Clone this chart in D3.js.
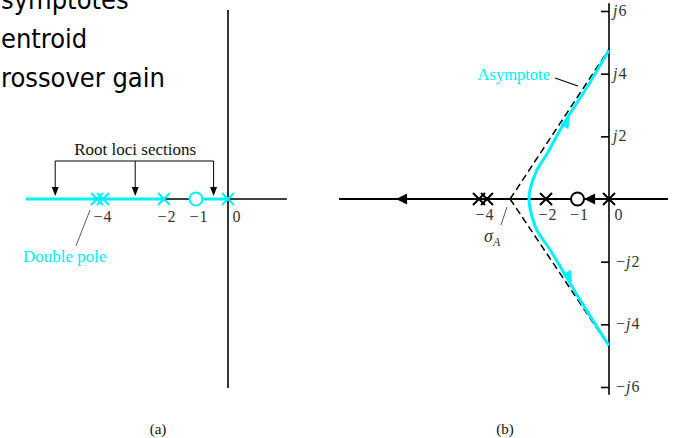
<!DOCTYPE html>
<html>
<head>
<meta charset="utf-8">
<script src="https://cdn.jsdelivr.net/npm/d3@7"></script>
<style>
  body { margin: 0; background: #fff; }
  svg { display: block; }
  .serif { font-family: "Liberation Serif", "Times New Roman", serif; }
  .num { font-size: 16px; letter-spacing: 1px; fill: #333; }
  .slide { font-family: "DejaVu Sans Condensed", "DejaVu Sans", sans-serif; font-stretch: condensed; }
</style>
</head>
<body>
<div id="chart"></div>
<script>
// Slide bullet text, as far as it is visible at the left edge
const slideLines = ['symptotes', 'entroid', 'rossover gain'];

// Open-loop poles and zeros
const poles = [0, -2, -4, -4];
const zeros = [-1];

// Panel (a)
const realLabelsA = [-4, -2, -1, 0];
const locusStretchesA = [[-6.31, -2], [-1, 0]];
const sectionArrows = [-5.4, -2.9, -0.45];

// Panel (b)
const realLabelsB = [-4, -2, -1, 0];
const imagTicks = [-6, -4, -2, 2, 4, 6];
const centroid = -3.14;
const asymptoteEnds = [4.78, -4.7];
const locusUpper = [[-2.54, 0], [-2.5, 0.32], [-2.29, 0.92], [-2.03, 1.34], [-1.9, 1.56],
    [-1.43, 2.42], [-0.76, 3.47], [0, 4.75]];
const locusLower = [[-2.54, 0], [-2.5, -0.33], [-2.29, -0.99], [-1.87, -1.62],
    [-1.3, -2.58], [-0.92, -3.22], [0, -4.68]];
const branchArrows = [
    {tip: [-1.24, 2.61], from: [-1.43, 2.3]},
    {tip: [-1.17, -2.64], from: [-1.36, -2.33]}
];
const realArrows = [-6.76, -0.79]; // tips, both pointing left

const CYAN = '#00f0ff';
const GREY = '#333';

const svg = d3.select('#chart')
    .append('svg')
    .attr('width', 677)
    .attr('height', 438);

// triangle head: tip point, direction angle, length, half width
function headPath(tx, ty, ang, len, hw) {
    const bx = tx - len * Math.cos(ang), by = ty - len * Math.sin(ang);
    const nx = -Math.sin(ang) * hw, ny = Math.cos(ang) * hw;
    return `M${tx},${ty}L${bx + nx},${by + ny}L${bx - nx},${by - ny}Z`;
}
const crossPath = 'M-6,-6L6,6M-6,6L6,-6';

// --- slide text ---
svg.append('g').attr('class', 'slide')
    .style('font-size', '27px').style('fill', '#000')
    .selectAll('text').data(slideLines).enter()
    .append('text')
    .attr('x', 1)
    .attr('y', (d, i) => [9, 48, 87][i])
    .text(d => d);

// ================= panel (a) =================
const xA = d3.scaleLinear().domain([-4, 0]).range([100, 228]);
const yA = d3.scaleLinear().domain([-6, 6]).range([388, 10]);
const gA = svg.append('g');

// axes
gA.append('line')
    .attr('x1', xA(0)).attr('x2', xA(0))
    .attr('y1', yA(6)).attr('y2', yA(-6))
    .attr('stroke', '#000').attr('stroke-width', 1.6);
gA.append('line')
    .attr('x1', xA(-6.31)).attr('x2', xA(1.84))
    .attr('y1', yA(0)).attr('y2', yA(0))
    .attr('stroke', '#000').attr('stroke-width', 1.6);

// locus on the real axis
gA.selectAll('.seg').data(locusStretchesA).enter()
    .append('line')
    .attr('x1', d => xA(d[0])).attr('x2', d => xA(d[1]))
    .attr('y1', yA(0)).attr('y2', yA(0))
    .attr('stroke', CYAN).attr('stroke-width', 3);

// poles / zeros
function poleOffsets(list, gap) {
    return list.map(function (p, i) {
        const same = list.filter(q => q === p);
        const k = list.slice(0, i).filter(q => q === p).length;
        return {v: p, dx: (k - (same.length - 1) / 2) * gap};
    });
}
gA.selectAll('.pole').data(poleOffsets(poles, 6)).enter()
    .append('path')
    .attr('d', crossPath)
    .attr('transform', d => `translate(${xA(d.v) + d.dx},${yA(0)})`)
    .attr('fill', 'none').attr('stroke', CYAN).attr('stroke-width', 2);
gA.selectAll('.zero').data(zeros).enter()
    .append('circle')
    .attr('cx', d => xA(d)).attr('cy', yA(0)).attr('r', 6.5)
    .attr('fill', '#fff').attr('stroke', CYAN).attr('stroke-width', 2);

// tick labels
gA.selectAll('.lbl').data(realLabelsA).enter()
    .append('text')
    .attr('class', 'serif num')
    .attr('x', d => d === 0 ? xA(d) + 9 : xA(d) + 3)
    .attr('y', yA(0) + 23)
    .attr('text-anchor', 'middle')
    .text(d => d === 0 ? '0' : '\u2212' + Math.abs(d));

// "Root loci sections" bracket
const bracketY = 161;
gA.append('text')
    .attr('class', 'serif')
    .attr('x', xA(-2.9)).attr('y', 155)
    .attr('text-anchor', 'middle')
    .style('font-size', '17px').style('fill', '#111')
    .text('Root loci sections');
gA.append('line')
    .attr('x1', xA(sectionArrows[0])).attr('x2', xA(sectionArrows[2]))
    .attr('y1', bracketY).attr('y2', bracketY)
    .attr('stroke', '#000').attr('stroke-width', 1);
sectionArrows.forEach(function (s) {
    gA.append('line')
        .attr('x1', xA(s)).attr('x2', xA(s))
        .attr('y1', bracketY).attr('y2', yA(0) - 10)
        .attr('stroke', '#000').attr('stroke-width', 1);
    gA.append('path')
        .attr('d', headPath(xA(s), yA(0) - 3, Math.PI / 2, 9, 3.5))
        .attr('fill', '#000');
});

// double pole note
gA.append('line')
    .attr('x1', 90).attr('y1', 210).attr('x2', 76).attr('y2', 246)
    .attr('stroke', '#333').attr('stroke-width', 0.8);
gA.append('text')
    .attr('class', 'serif')
    .attr('x', 23).attr('y', 262)
    .style('font-size', '17px').style('fill', CYAN)
    .text('Double pole');

gA.append('text')
    .attr('class', 'serif')
    .attr('x', 158).attr('y', 434)
    .attr('text-anchor', 'middle')
    .style('font-size', '15px').style('fill', '#111')
    .text('(a)');

// ================= panel (b) =================
const xB = d3.scaleLinear().domain([-2, 0]).range([546, 609]);
const yB = d3.scaleLinear().domain([-6, 6]).range([387, 11]);
const gB = svg.append('g');

// imaginary axis with ticks on the left
gB.append('g')
    .attr('transform', `translate(${xB(0)},0)`)
    .call(d3.axisLeft(yB).tickValues(imagTicks).tickSize(8).tickFormat(''))
    .call(g => g.select('.domain').remove())
    .selectAll('line').attr('stroke', '#000').attr('stroke-width', 1.6);
gB.append('line')
    .attr('x1', xB(0)).attr('x2', xB(0))
    .attr('y1', yB(6.25)).attr('y2', yB(-6.25))
    .attr('stroke', '#000').attr('stroke-width', 1.6);

gB.selectAll('.jl').data(imagTicks).enter()
    .append('text')
    .attr('class', 'serif num')
    .attr('x', d => xB(0) + (d < 0 ? 7 : 4))
    .attr('y', d => yB(d) + 5)
    .each(function (d) {
        const t = d3.select(this);
        if (d < 0) t.append('tspan').text('\u2212');
        t.append('tspan').style('font-style', 'italic').text('j');
        t.append('tspan').text(Math.abs(d));
    });

// real axis (heavy)
gB.append('line')
    .attr('x1', xB(-8.57)).attr('x2', xB(1.87))
    .attr('y1', yB(0)).attr('y2', yB(0))
    .attr('stroke', '#000').attr('stroke-width', 2.2);
realArrows.forEach(function (r) {
    gB.append('path')
        .attr('d', headPath(xB(r), yB(0), Math.PI, 11, 5.5))
        .attr('fill', '#000');
});

// asymptotes
asymptoteEnds.forEach(function (e) {
    gB.append('line')
        .attr('x1', xB(centroid)).attr('y1', yB(0))
        .attr('x2', xB(0)).attr('y2', yB(e))
        .attr('stroke', '#000').attr('stroke-width', 1.5)
        .attr('stroke-dasharray', '7,4');
});

// complex branches
const locusLine = d3.line()
    .x(d => xB(d[0])).y(d => yB(d[1]))
    .curve(d3.curveCatmullRom);
const branchPts = locusLower.slice().reverse().concat(locusUpper.slice(1));
gB.append('path')
    .attr('d', locusLine(branchPts))
    .attr('fill', 'none').attr('stroke', CYAN).attr('stroke-width', 3);
branchArrows.forEach(function (a) {
    const tx = xB(a.tip[0]), ty = yB(a.tip[1]);
    const ang = Math.atan2(ty - yB(a.from[1]), tx - xB(a.from[0]));
    gB.append('path')
        .attr('d', headPath(tx, ty, ang, 11, 5))
        .attr('fill', CYAN);
});

// poles / zeros
gB.selectAll('.pole').data(poleOffsets(poles, 8)).enter()
    .append('path')
    .attr('d', crossPath)
    .attr('transform', d => `translate(${xB(d.v) + d.dx},${yB(0)})`)
    .attr('fill', 'none').attr('stroke', '#000').attr('stroke-width', 2);
gB.selectAll('.zero').data(zeros).enter()
    .append('circle')
    .attr('cx', d => xB(d)).attr('cy', yB(0)).attr('r', 6.5)
    .attr('fill', '#fff').attr('stroke', '#000').attr('stroke-width', 2);

gB.selectAll('.lbl').data(realLabelsB).enter()
    .append('text')
    .attr('class', 'serif num')
    .attr('x', d => d === 0 ? xB(d) + 10 : xB(d) + 2)
    .attr('y', yB(0) + 21)
    .attr('text-anchor', 'middle')
    .text(d => d === 0 ? '0' : '\u2212' + Math.abs(d));

// centroid label
gB.append('line')
    .attr('x1', 507).attr('y1', 207).attr('x2', 501).attr('y2', 225)
    .attr('stroke', '#333').attr('stroke-width', 0.8);
const sig = gB.append('text')
    .attr('class', 'serif')
    .attr('x', 484).attr('y', 242)
    .style('font-size', '18px').style('fill', GREY);
sig.append('tspan').style('font-style', 'italic').text('\u03c3');
sig.append('tspan').attr('dy', 4).style('font-size', '12px')
    .style('font-style', 'italic').text('A');

// asymptote note
gB.append('line')
    .attr('x1', 555).attr('y1', 78).attr('x2', 578).attr('y2', 86)
    .attr('stroke', '#000').attr('stroke-width', 1.2);
gB.append('text')
    .attr('class', 'serif')
    .attr('x', 550).attr('y', 80)
    .attr('text-anchor', 'end')
    .style('font-size', '16.5px').style('fill', CYAN)
    .text('Asymptote');

gB.append('text')
    .attr('class', 'serif')
    .attr('x', 505).attr('y', 434)
    .attr('text-anchor', 'middle')
    .style('font-size', '15px').style('fill', '#111')
    .text('(b)');
</script>
</body>
</html>
